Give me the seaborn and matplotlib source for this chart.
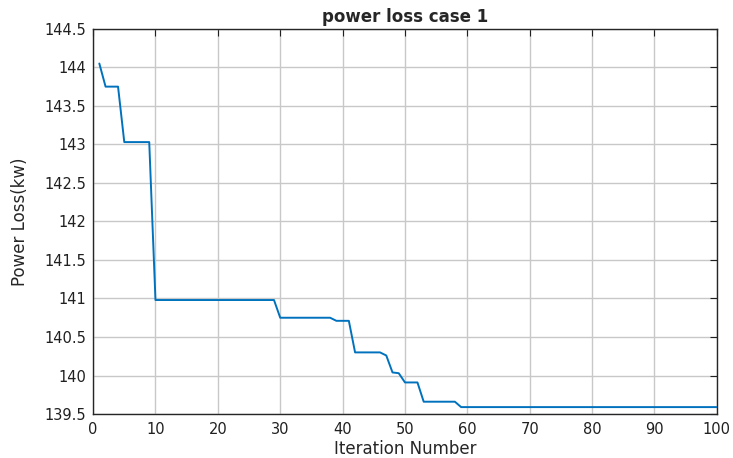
import matplotlib
matplotlib.use("Agg")
from matplotlib import pyplot as plt
import seaborn as sns
import pandas as pd

# iteration numbers and the best power loss found so far (kW)
iterations = list(range(1, 101))
power_loss = [
    144.05, 143.75, 143.75, 143.75, 143.03, 143.03, 143.03, 143.03, 143.03, 140.98,
    140.98, 140.98, 140.98, 140.98, 140.98, 140.98, 140.98, 140.98, 140.98, 140.98,
    140.98, 140.98, 140.98, 140.98, 140.98, 140.98, 140.98, 140.98, 140.98, 140.75,
    140.75, 140.75, 140.75, 140.75, 140.75, 140.75, 140.75, 140.75, 140.71, 140.71,
    140.71, 140.30, 140.30, 140.30, 140.30, 140.30, 140.26, 140.04, 140.03, 139.91,
    139.91, 139.91, 139.66, 139.66, 139.66, 139.66, 139.66, 139.66, 139.59, 139.59,
    139.59, 139.59, 139.59, 139.59, 139.59, 139.59, 139.59, 139.59, 139.59, 139.59,
    139.59, 139.59, 139.59, 139.59, 139.59, 139.59, 139.59, 139.59, 139.59, 139.59,
    139.59, 139.59, 139.59, 139.59, 139.59, 139.59, 139.59, 139.59, 139.59, 139.59,
    139.59, 139.59, 139.59, 139.59, 139.59, 139.59, 139.59, 139.59, 139.59, 139.59,
]
x_ticks = [0, 10, 20, 30, 40, 50, 60, 70, 80, 90, 100]
y_ticks = [139.5, 140, 140.5, 141, 141.5, 142, 142.5, 143, 143.5, 144, 144.5]
y_tick_labels = ["139.5", "140", "140.5", "141", "141.5", "142",
                 "142.5", "143", "143.5", "144", "144.5"]

sns.set_style("white")
plt.rcParams['font.family'] = ['DejaVu Sans']

df = pd.DataFrame({"iteration": iterations, "loss": power_loss})

fig = plt.figure(figsize=(7.33, 4.58), dpi=100)
ax = fig.add_axes([0.127, 0.096, 0.851, 0.841])

sns.lineplot(data=df, x="iteration", y="loss", ax=ax,
             color=(0.0, 0.447, 0.741), linewidth=1.4, zorder=3)

ax.set_xlim(0, 100)
ax.set_ylim(139.5, 144.5)
ax.set_xticks(x_ticks)
ax.set_yticks(y_ticks)
ax.set_yticklabels(y_tick_labels)
ax.grid(True, color="#c8c8c8", linewidth=1.0)
ax.tick_params(direction="in", top=True, right=True, length=5,
               width=0.8, labelsize=10.5, colors="#202020")
ax.tick_params(axis="x", pad=6)
ax.tick_params(axis="y", pad=5)
for s in ax.spines.values():
    s.set_color("#262626")
    s.set_linewidth(1.0)

ax.set_xlabel("Iteration Number", fontsize=12, labelpad=2)
ax.set_ylabel("Power Loss(kw)", fontsize=12, labelpad=11)
ax.set_title("power loss case 1", fontsize=12, fontweight="bold", pad=5)

fig.savefig("out.png", dpi=100)
